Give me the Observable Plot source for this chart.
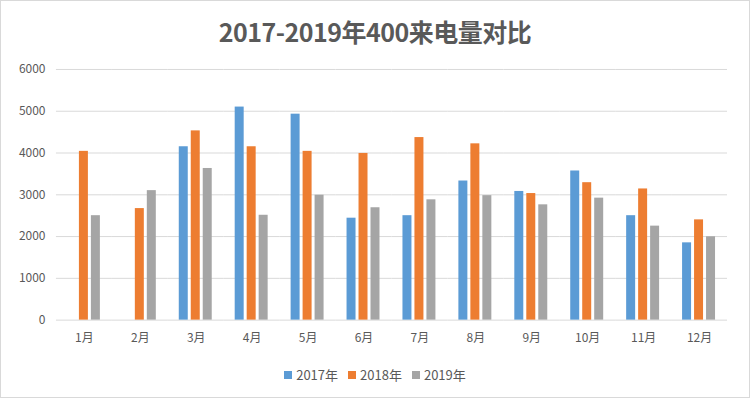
<!DOCTYPE html>
<html><head><meta charset="utf-8">
<script src="https://cdn.jsdelivr.net/npm/d3@7"></script>
<script src="https://cdn.jsdelivr.net/npm/@observablehq/plot@0.6"></script>
<style>
html,body{margin:0;padding:0;background:#fff;}
#wrap{position:relative;width:750px;height:398px;box-sizing:border-box;border:1px solid #d9d9d9;font-family:"Noto Sans CJK SC","Noto Sans",sans-serif;overflow:hidden;background:#fff;}
#title{position:absolute;left:0;top:12px;width:748px;text-align:center;font-size:25px;font-weight:bold;color:#595959;line-height:36px;letter-spacing:-0.5px;}
#chart{position:absolute;left:-1px;top:49px;}
#legend{position:absolute;left:0;top:364px;width:748px;display:flex;justify-content:center;gap:10px;font-size:13px;color:#595959;line-height:20px;}
#legend span.item{display:flex;align-items:center;gap:4px;}
#legend span.sw{display:inline-block;width:8px;height:8px;}
</style></head>
<body>
<div id="wrap">
  <div id="title">2017-2019年400来电量对比</div>
  <div id="chart"></div>
  <div id="legend"></div>
</div>
<script>
const months = ["1月","2月","3月","4月","5月","6月","7月","8月","9月","10月","11月","12月"];
const years = ["2017年","2018年","2019年"];
const v2017 = [null, null, 4150, 5100, 4930, 2440, 2500, 3330, 3080, 3570, 2500, 1850];
const v2018 = [4040, 2670, 4530, 4150, 4040, 3990, 4370, 4220, 3030, 3290, 3140, 2400];
const v2019 = [2500, 3100, 3630, 2510, 2990, 2690, 2880, 2980, 2760, 2920, 2250, 1995];
const yTicks = [0, 1000, 2000, 3000, 4000, 5000, 6000];
const colors = ["#5B9BD5", "#ED7D31", "#A5A5A5"];

const series = [v2017, v2018, v2019];
const data = [];
months.forEach((m, i) => {
  years.forEach((y, j) => {
    const v = series[j][i];
    if (v != null) data.push({month: m, year: y, value: v});
  });
});

const chart = Plot.plot({
  width: 750,
  height: 306,
  marginTop: 19,
  marginBottom: 36,
  marginLeft: 53,
  marginRight: 19,
  style: {fontFamily: '"Noto Sans CJK SC","Noto Sans",sans-serif', fontSize: "12px", color: "#595959", background: "transparent"},
  fx: {domain: months, padding: 0, label: null, tickSize: 0, tickPadding: 13},
  x: {domain: years, axis: null, paddingInner: 0.22, paddingOuter: 0.85},
  y: {domain: [0, 6000], ticks: yTicks, tickFormat: d => String(d), label: null, tickSize: 0, tickPadding: 11, grid: false},
  color: {domain: years, range: colors},
  marks: [
    Plot.ruleY(yTicks, {stroke: "#d9d9d9", strokeWidth: 1}),
    Plot.barY(data, {fx: "month", x: "year", y: "value", fill: "year"})
  ]
});
document.getElementById("chart").appendChild(chart);

const leg = document.getElementById("legend");
years.forEach((y, j) => {
  const it = document.createElement("span");
  it.className = "item";
  const sw = document.createElement("span");
  sw.className = "sw";
  sw.style.background = colors[j];
  it.appendChild(sw);
  it.appendChild(document.createTextNode(y));
  leg.appendChild(it);
});
</script>
</body></html>
